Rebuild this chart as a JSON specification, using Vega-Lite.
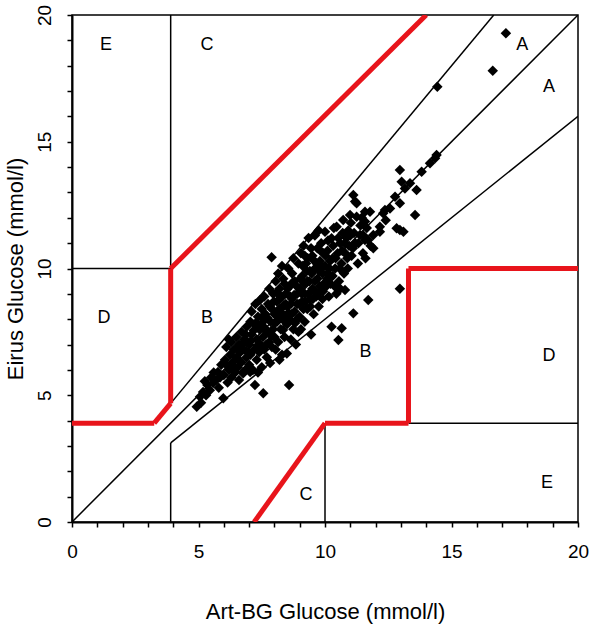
{
  "$schema": "https://vega.github.io/schema/vega-lite/v6.json",
  "width": 506,
  "height": 507,
  "autosize": "none",
  "padding": {"left": 72, "top": 15, "right": 22, "bottom": 103},
  "background": "white",
  "config": {
    "view": {"stroke": "black", "strokeWidth": 1.5},
    "font": "Liberation Sans"
  },
  "datasets": {
    "segs": [
      {"x": 0, "y": 0, "x2": 20, "y2": 20, "kind": "black"},
      {"x": 3.9, "y": 4.68, "x2": 16.67, "y2": 20, "kind": "black"},
      {"x": 3.9, "y": 3.12, "x2": 20, "y2": 16, "kind": "black"},
      {"x": 3.9, "y": 0, "x2": 3.9, "y2": 3.12, "kind": "black"},
      {"x": 3.9, "y": 10, "x2": 3.9, "y2": 20, "kind": "black"},
      {"x": 0, "y": 10, "x2": 3.9, "y2": 10, "kind": "black"},
      {"x": 10, "y": 0, "x2": 10, "y2": 3.9, "kind": "black"},
      {"x": 13.3, "y": 3.9, "x2": 20, "y2": 3.9, "kind": "black"},
      {"x": 0, "y": 3.9, "x2": 3.25, "y2": 3.9, "kind": "red"},
      {"x": 3.25, "y": 3.9, "x2": 3.9, "y2": 4.68, "kind": "red"},
      {"x": 3.9, "y": 4.68, "x2": 3.9, "y2": 10, "kind": "red"},
      {"x": 3.9, "y": 10, "x2": 14.0, "y2": 20, "kind": "red"},
      {"x": 7.2, "y": 0, "x2": 10, "y2": 3.9, "kind": "red"},
      {"x": 10, "y": 3.9, "x2": 13.3, "y2": 3.9, "kind": "red"},
      {"x": 13.3, "y": 3.9, "x2": 13.3, "y2": 10, "kind": "red"},
      {"x": 13.3, "y": 10, "x2": 20, "y2": 10, "kind": "red"}
    ],
    "zones": [
      {"x": 1.34, "y": 18.8, "t": "E"},
      {"x": 5.34, "y": 18.8, "t": "C"},
      {"x": 17.8, "y": 18.8, "t": "A"},
      {"x": 18.85, "y": 17.16, "t": "A"},
      {"x": 1.26, "y": 8.05, "t": "D"},
      {"x": 5.34, "y": 8.05, "t": "B"},
      {"x": 11.6, "y": 6.7, "t": "B"},
      {"x": 18.85, "y": 6.55, "t": "D"},
      {"x": 9.25, "y": 1.07, "t": "C"},
      {"x": 18.77, "y": 1.54, "t": "E"}
    ],
    "pts": [
      {"x": 4.93, "y": 4.55}, {"x": 5.06, "y": 4.94}, {"x": 5.18, "y": 5.13}, {"x": 5.1, "y": 4.7},
      {"x": 5.3, "y": 5.0}, {"x": 5.35, "y": 5.4}, {"x": 5.45, "y": 5.2}, {"x": 5.58, "y": 5.48},
      {"x": 5.6, "y": 5.9}, {"x": 5.7, "y": 5.6}, {"x": 5.77, "y": 5.92}, {"x": 5.8, "y": 5.3},
      {"x": 5.9, "y": 6.2}, {"x": 5.85, "y": 5.7}, {"x": 5.5, "y": 5.7}, {"x": 5.25, "y": 5.55},
      {"x": 6.0, "y": 5.8}, {"x": 6.05, "y": 6.4}, {"x": 6.1, "y": 6.9}, {"x": 6.11, "y": 6.19},
      {"x": 6.15, "y": 5.5}, {"x": 6.2, "y": 6.0}, {"x": 6.25, "y": 6.6}, {"x": 6.3, "y": 7.1},
      {"x": 6.3, "y": 5.7}, {"x": 6.35, "y": 6.3}, {"x": 6.4, "y": 6.8}, {"x": 6.45, "y": 5.9},
      {"x": 6.5, "y": 7.3}, {"x": 6.5, "y": 6.5}, {"x": 6.55, "y": 6.1}, {"x": 6.6, "y": 7.0},
      {"x": 6.6, "y": 5.6}, {"x": 6.65, "y": 6.7}, {"x": 6.7, "y": 7.5}, {"x": 6.7, "y": 6.3},
      {"x": 6.75, "y": 5.9}, {"x": 6.8, "y": 7.2}, {"x": 6.8, "y": 6.8}, {"x": 6.85, "y": 6.0},
      {"x": 6.9, "y": 7.7}, {"x": 6.9, "y": 6.5}, {"x": 6.95, "y": 7.1}, {"x": 6.77, "y": 5.87},
      {"x": 6.4, "y": 6.1}, {"x": 6.2, "y": 7.2}, {"x": 5.98, "y": 4.88},
      {"x": 7.0, "y": 6.2}, {"x": 7.0, "y": 7.0}, {"x": 7.05, "y": 7.9}, {"x": 7.05, "y": 6.6},
      {"x": 7.1, "y": 8.3}, {"x": 7.1, "y": 7.4}, {"x": 7.15, "y": 6.0}, {"x": 7.2, "y": 7.8},
      {"x": 7.2, "y": 6.8}, {"x": 7.23, "y": 5.4}, {"x": 7.25, "y": 8.6}, {"x": 7.3, "y": 7.2},
      {"x": 7.3, "y": 6.4}, {"x": 7.35, "y": 8.1}, {"x": 7.4, "y": 7.6}, {"x": 7.4, "y": 6.7},
      {"x": 7.43, "y": 8.76}, {"x": 7.45, "y": 7.0}, {"x": 7.5, "y": 8.4}, {"x": 7.5, "y": 6.1},
      {"x": 7.55, "y": 7.9}, {"x": 7.56, "y": 5.08}, {"x": 7.55, "y": 7.3}, {"x": 7.6, "y": 8.9},
      {"x": 7.6, "y": 6.8}, {"x": 7.65, "y": 8.2}, {"x": 7.7, "y": 7.5}, {"x": 7.7, "y": 6.5},
      {"x": 7.75, "y": 8.6}, {"x": 7.8, "y": 7.1}, {"x": 7.8, "y": 9.2}, {"x": 7.83, "y": 6.27},
      {"x": 7.85, "y": 7.9}, {"x": 7.9, "y": 8.4}, {"x": 7.9, "y": 6.9}, {"x": 7.95, "y": 9.0},
      {"x": 7.89, "y": 10.44}, {"x": 7.95, "y": 7.6}, {"x": 7.04, "y": 5.92}, {"x": 7.35, "y": 5.9},
      {"x": 8.0, "y": 8.2}, {"x": 8.0, "y": 7.3}, {"x": 8.05, "y": 9.5}, {"x": 8.05, "y": 6.8},
      {"x": 8.1, "y": 8.7}, {"x": 8.1, "y": 7.9}, {"x": 8.15, "y": 9.8}, {"x": 8.15, "y": 7.1},
      {"x": 8.2, "y": 8.4}, {"x": 8.2, "y": 9.2}, {"x": 8.25, "y": 7.6}, {"x": 8.3, "y": 8.9},
      {"x": 8.3, "y": 6.6}, {"x": 8.34, "y": 7.57}, {"x": 8.35, "y": 9.6}, {"x": 8.4, "y": 8.1},
      {"x": 8.4, "y": 7.3}, {"x": 8.45, "y": 9.0}, {"x": 8.49, "y": 6.65}, {"x": 8.5, "y": 8.5},
      {"x": 8.5, "y": 7.8}, {"x": 8.55, "y": 10.0}, {"x": 8.58, "y": 5.4}, {"x": 8.6, "y": 9.3},
      {"x": 8.6, "y": 8.0}, {"x": 8.65, "y": 7.2}, {"x": 8.7, "y": 8.8}, {"x": 8.7, "y": 9.8},
      {"x": 8.75, "y": 7.6}, {"x": 8.8, "y": 8.3}, {"x": 8.8, "y": 9.5}, {"x": 8.85, "y": 7.0},
      {"x": 8.9, "y": 9.0}, {"x": 8.9, "y": 8.0}, {"x": 8.95, "y": 10.2}, {"x": 8.95, "y": 7.5},
      {"x": 8.2, "y": 6.4}, {"x": 8.45, "y": 8.6}, {"x": 8.65, "y": 8.6}, {"x": 8.3, "y": 10.1},
      {"x": 8.9, "y": 8.6}, {"x": 8.1, "y": 8.3}, {"x": 8.75, "y": 10.4}, {"x": 8.4, "y": 9.4},
      {"x": 9.0, "y": 9.2}, {"x": 9.0, "y": 8.1}, {"x": 9.05, "y": 10.6}, {"x": 9.05, "y": 7.6},
      {"x": 9.1, "y": 9.7}, {"x": 9.1, "y": 8.7}, {"x": 9.15, "y": 10.9}, {"x": 9.2, "y": 9.0},
      {"x": 9.2, "y": 7.9}, {"x": 9.25, "y": 10.2}, {"x": 9.3, "y": 9.5}, {"x": 9.3, "y": 8.4},
      {"x": 9.35, "y": 11.2}, {"x": 9.4, "y": 9.9}, {"x": 9.4, "y": 8.8}, {"x": 9.45, "y": 7.4},
      {"x": 9.5, "y": 10.5}, {"x": 9.5, "y": 9.2}, {"x": 9.55, "y": 8.2}, {"x": 9.6, "y": 10.0},
      {"x": 9.6, "y": 11.3}, {"x": 9.65, "y": 8.9}, {"x": 9.7, "y": 9.6}, {"x": 9.7, "y": 10.8},
      {"x": 9.75, "y": 8.5}, {"x": 9.8, "y": 10.3}, {"x": 9.8, "y": 9.3}, {"x": 9.85, "y": 11.0},
      {"x": 9.9, "y": 9.8}, {"x": 9.9, "y": 8.8}, {"x": 9.95, "y": 10.6}, {"x": 9.95, "y": 9.4},
      {"x": 9.2, "y": 10.5}, {"x": 9.6, "y": 9.5}, {"x": 9.45, "y": 10.8}, {"x": 9.15, "y": 8.4},
      {"x": 9.75, "y": 11.5}, {"x": 9.35, "y": 9.0},
      {"x": 10.0, "y": 10.1}, {"x": 10.0, "y": 11.45}, {"x": 10.05, "y": 9.3}, {"x": 10.1, "y": 10.7},
      {"x": 10.15, "y": 8.9}, {"x": 10.2, "y": 10.3}, {"x": 10.26, "y": 11.19}, {"x": 10.26, "y": 7.7},
      {"x": 10.3, "y": 9.7}, {"x": 10.35, "y": 11.6}, {"x": 10.4, "y": 10.0}, {"x": 10.45, "y": 9.0},
      {"x": 10.46, "y": 11.65}, {"x": 10.5, "y": 10.6}, {"x": 10.53, "y": 7.18}, {"x": 10.55, "y": 9.5},
      {"x": 10.6, "y": 11.0}, {"x": 10.66, "y": 7.64}, {"x": 10.65, "y": 10.2}, {"x": 10.7, "y": 11.4},
      {"x": 10.72, "y": 11.91}, {"x": 10.75, "y": 9.8}, {"x": 10.79, "y": 9.15}, {"x": 10.8, "y": 10.6},
      {"x": 10.85, "y": 11.2}, {"x": 10.9, "y": 10.0}, {"x": 10.95, "y": 10.9}, {"x": 10.99, "y": 12.11},
      {"x": 10.3, "y": 10.4}, {"x": 10.1, "y": 9.8}, {"x": 10.6, "y": 9.2},
      {"x": 11.0, "y": 11.3}, {"x": 11.05, "y": 10.5}, {"x": 11.12, "y": 12.9}, {"x": 11.12, "y": 8.23},
      {"x": 11.19, "y": 12.64}, {"x": 11.2, "y": 11.0}, {"x": 11.25, "y": 12.57}, {"x": 11.25, "y": 12.04},
      {"x": 11.3, "y": 10.2}, {"x": 11.38, "y": 11.32}, {"x": 11.4, "y": 11.7}, {"x": 11.5, "y": 10.6},
      {"x": 11.58, "y": 12.24}, {"x": 11.58, "y": 11.85}, {"x": 11.58, "y": 11.12}, {"x": 11.71, "y": 11.12},
      {"x": 11.71, "y": 8.76}, {"x": 11.78, "y": 12.24}, {"x": 11.8, "y": 10.9}, {"x": 11.91, "y": 11.32},
      {"x": 11.91, "y": 10.8}, {"x": 11.6, "y": 10.4}, {"x": 11.1, "y": 10.8},
      {"x": 12.17, "y": 11.45}, {"x": 12.17, "y": 11.65}, {"x": 12.3, "y": 12.18}, {"x": 12.37, "y": 12.31},
      {"x": 12.57, "y": 12.37}, {"x": 12.77, "y": 12.83}, {"x": 12.83, "y": 11.59}, {"x": 12.96, "y": 12.57},
      {"x": 12.96, "y": 13.89}, {"x": 12.96, "y": 9.2}, {"x": 13.03, "y": 13.42}, {"x": 13.1, "y": 11.45},
      {"x": 13.16, "y": 13.16}, {"x": 13.36, "y": 13.36}, {"x": 13.56, "y": 12.11}, {"x": 13.62, "y": 13.1},
      {"x": 13.82, "y": 13.82}, {"x": 14.15, "y": 14.15}, {"x": 14.35, "y": 14.35}, {"x": 14.41, "y": 14.48},
      {"x": 14.44, "y": 17.17}, {"x": 16.63, "y": 17.8}, {"x": 17.15, "y": 19.28}, {"x": 12.96, "y": 11.52},
      {"x": 12.4, "y": 11.9},
      {"x": 6.55, "y": 6.9}, {"x": 6.62, "y": 6.35}, {"x": 6.72, "y": 7.0}, {"x": 6.87, "y": 7.4},
      {"x": 6.95, "y": 6.7}, {"x": 7.08, "y": 7.15}, {"x": 7.18, "y": 7.55}, {"x": 7.28, "y": 7.85},
      {"x": 7.32, "y": 6.95}, {"x": 7.46, "y": 7.75}, {"x": 7.52, "y": 8.1}, {"x": 7.62, "y": 7.65},
      {"x": 7.68, "y": 7.0}, {"x": 7.72, "y": 8.05}, {"x": 7.82, "y": 8.5}, {"x": 7.88, "y": 7.35},
      {"x": 7.98, "y": 8.7}, {"x": 8.02, "y": 7.85}, {"x": 8.08, "y": 9.05}, {"x": 8.18, "y": 8.0},
      {"x": 8.22, "y": 8.8}, {"x": 8.28, "y": 8.25}, {"x": 8.38, "y": 8.55}, {"x": 8.42, "y": 7.9},
      {"x": 8.52, "y": 9.2}, {"x": 8.56, "y": 8.25}, {"x": 8.62, "y": 8.9}, {"x": 8.68, "y": 8.2},
      {"x": 8.72, "y": 9.45}, {"x": 8.78, "y": 8.95}, {"x": 8.82, "y": 7.85}, {"x": 8.88, "y": 9.3},
      {"x": 8.98, "y": 8.6}, {"x": 9.02, "y": 9.6}, {"x": 9.08, "y": 9.0}, {"x": 9.12, "y": 10.1},
      {"x": 9.18, "y": 9.4}, {"x": 9.22, "y": 8.7}, {"x": 9.28, "y": 9.9}, {"x": 9.32, "y": 10.4},
      {"x": 9.38, "y": 9.5}, {"x": 9.42, "y": 8.5}, {"x": 9.48, "y": 9.8}, {"x": 9.52, "y": 8.8},
      {"x": 9.58, "y": 10.3}, {"x": 9.62, "y": 9.1}, {"x": 9.68, "y": 10.2}, {"x": 9.72, "y": 9.0},
      {"x": 9.78, "y": 9.9}, {"x": 9.82, "y": 10.7}, {"x": 9.88, "y": 10.1}, {"x": 9.92, "y": 9.1},
      {"x": 10.02, "y": 10.5}, {"x": 10.08, "y": 9.6}, {"x": 10.12, "y": 11.1}, {"x": 10.18, "y": 10.0},
      {"x": 10.22, "y": 9.4}, {"x": 10.32, "y": 10.9}, {"x": 10.38, "y": 9.3}, {"x": 10.42, "y": 10.4},
      {"x": 10.52, "y": 11.2}, {"x": 10.58, "y": 10.0}, {"x": 10.68, "y": 10.7}, {"x": 10.78, "y": 11.0},
      {"x": 10.88, "y": 10.4}, {"x": 10.92, "y": 11.5}, {"x": 11.02, "y": 11.8}, {"x": 11.15, "y": 11.4},
      {"x": 11.32, "y": 11.0}, {"x": 11.45, "y": 12.0}, {"x": 11.52, "y": 11.3}, {"x": 11.65, "y": 11.6}
    ]
  },
  "encoding": {
    "x": {"field": "x", "type": "quantitative", "scale": {"domain": [0, 20], "nice": false, "zero": false},
      "axis": {
        "title": "Art-BG Glucose (mmol/l)",
        "values": [0,1,2,3,4,5,6,7,8,9,10,11,12,13,14,15,16,17,18,19,20],
        "labelExpr": "datum.value % 5 === 0 ? datum.label : ''",
        "grid": false, "domainColor": "black", "domainWidth": 2,
        "tickColor": "black", "tickSize": 5, "tickWidth": 1.5,
        "labelFont": "Liberation Sans", "labelFontSize": 19, "labelColor": "black",
        "labelPadding": 15, "labelFlush": false, "labelOverlap": false, "labelBound": false,
        "titleFont": "Liberation Sans", "titleFontSize": 22, "titleFontWeight": "normal", "titleColor": "black",
        "titleBaseline": "alphabetic", "titleY": 96
      }},
    "y": {"field": "y", "type": "quantitative", "scale": {"domain": [0, 20], "nice": false, "zero": false},
      "axis": {
        "title": "Eirus Glucose (mmol/l)",
        "values": [0,1,2,3,4,5,6,7,8,9,10,11,12,13,14,15,16,17,18,19,20],
        "labelExpr": "datum.value % 5 === 0 ? datum.label : ''",
        "grid": false, "domainColor": "black", "domainWidth": 2,
        "tickColor": "black", "tickSize": 5, "tickWidth": 1.5,
        "labelFont": "Liberation Sans", "labelFontSize": 19, "labelColor": "black",
        "labelAngle": -90, "labelAlign": "center", "labelBaseline": "alphabetic",
        "labelPadding": 17, "labelFlush": false, "labelOverlap": false, "labelBound": false,
        "titleFont": "Liberation Sans", "titleFontSize": 22, "titleFontWeight": "normal", "titleColor": "black",
        "titleAngle": -90, "titleBaseline": "alphabetic", "titleAlign": "center",
        "titleX": -50, "titleY": 253.5
      }}
  },
  "layer": [
    {
      "data": {"name": "segs"},
      "mark": {"type": "rule", "clip": true},
      "encoding": {
        "x2": {"field": "x2"},
        "y2": {"field": "y2"},
        "color": {"field": "kind", "type": "nominal", "scale": {"domain": ["black", "red"], "range": ["#000000", "#e8141b"]}, "legend": null},
        "strokeWidth": {"field": "kind", "type": "nominal", "scale": {"domain": ["black", "red"], "range": [1.5, 5]}, "legend": null}
      }
    },
    {
      "data": {"name": "pts"},
      "mark": {"type": "point", "shape": "diamond", "filled": true, "color": "black", "size": 110, "opacity": 1}
    },
    {
      "data": {"name": "zones"},
      "mark": {"type": "text", "font": "Liberation Sans", "fontSize": 18, "color": "black", "align": "center", "baseline": "middle"},
      "encoding": {
        "text": {"field": "t"}
      }
    }
  ]
}
